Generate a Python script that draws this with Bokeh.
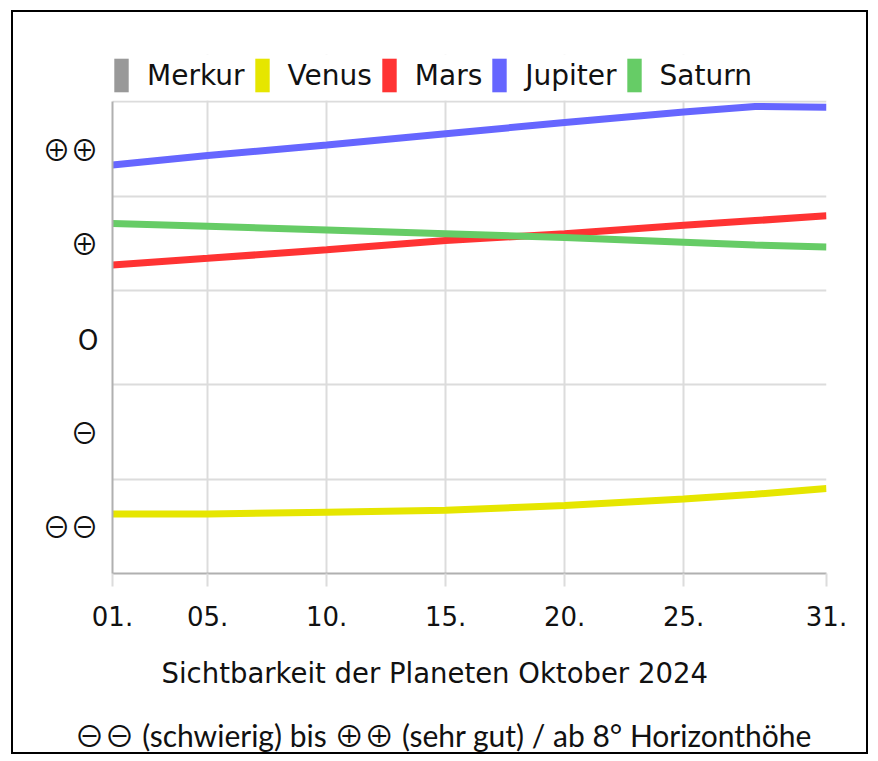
from bokeh.plotting import figure
from bokeh.models import (Range1d, FixedTicker, Legend, LegendItem, Title, BoxAnnotation)
from bokeh.embed import file_html
from bokeh.resources import INLINE

# ---- data ----
days = [1, 5, 10, 15, 20, 25, 28, 31]
planets = ["Merkur", "Venus", "Mars", "Jupiter", "Saturn"]
colors = ["#999999", "#e6e600", "#ff3333", "#6666ff", "#66cc66"]
merkur = [float("nan")] * 8
venus = [-1.87, -1.87, -1.85, -1.83, -1.78, -1.71, -1.66, -1.60]
mars = [0.77, 0.84, 0.93, 1.03, 1.10, 1.19, 1.24, 1.29]
jupiter = [1.83, 1.93, 2.04, 2.16, 2.28, 2.39, 2.45, 2.44]
saturn = [1.21, 1.18, 1.14, 1.10, 1.06, 1.01, 0.98, 0.96]
series = [merkur, venus, mars, jupiter, saturn]

x_ticks = [1, 5, 10, 15, 20, 25, 31]
x_tick_labels = ["01.", "05.", "10.", "15.", "20.", "25.", "31."]
y_ticks = [-2, -1, 0, 1, 2]
y_tick_labels = ["⊖⊖", "⊖", "O", "⊕", "⊕⊕"]
y_grid = [-2.5, -1.5, -0.5, 0.5, 1.5, 2.5]
y_min, y_max, y_legend_top = -2.5, 2.5, 3.0
title1 = "Sichtbarkeit der Planeten Oktober 2024"
title2 = "⊖⊖ (schwierig) bis ⊕⊕ (sehr gut) / ab 8° Horizonthöhe"

FONT = "DejaVu Sans"
NAN = float("nan")

p = figure(frame_width=714, frame_height=519, output_backend="svg", toolbar_location=None,
           x_range=Range1d(1, 31), y_range=Range1d(y_min, y_legend_top),
           min_border_left=99, min_border_top=42, min_border_right=40,
           min_border_bottom=170)
p.margin = (10, 0, 0, 11)
p.styles = {"border": "2px solid black"}
p.outline_line_color = None
p.background_fill_color = "white"
p.border_fill_color = "white"

grid_col = "#dcdcdc"
axis_col = "#b0b0b0"

p.xaxis.ticker = FixedTicker(ticks=x_ticks)
p.xaxis.major_label_overrides = {t: l for t, l in zip(x_ticks, x_tick_labels)}
p.xaxis.major_label_text_font = FONT
p.xaxis.major_label_text_font_size = "26px"
p.xaxis.major_label_text_color = "#111111"
p.xaxis.major_tick_out = 13
p.xaxis.major_tick_in = 0
p.xaxis.major_tick_line_color = grid_col
p.xaxis.major_tick_line_width = 2
p.xaxis.minor_tick_line_color = None
p.xaxis.axis_line_color = axis_col
p.xaxis.axis_line_width = 2
p.xaxis.major_label_standoff = 19

p.yaxis.ticker = FixedTicker(ticks=y_ticks)
p.yaxis.bounds = (y_min, y_max)
p.yaxis.major_label_overrides = {t: l for t, l in zip(y_ticks, y_tick_labels)}
p.yaxis.major_label_text_font = "Noto Sans CJK JP"
p.yaxis.major_label_text_font_size = "28px"
p.yaxis.major_label_text_color = "#111111"
p.yaxis.major_tick_line_color = None
p.yaxis.minor_tick_line_color = None
p.yaxis.axis_line_color = axis_col
p.yaxis.axis_line_width = 2
p.yaxis.major_label_standoff = 8

p.xgrid.ticker = FixedTicker(ticks=x_ticks)
p.ygrid.ticker = FixedTicker(ticks=y_grid)
p.xgrid.grid_line_color = grid_col
p.ygrid.grid_line_color = grid_col
p.xgrid.grid_line_width = 2
p.ygrid.grid_line_width = 2

# white band above the chart area, reserved for the legend (hides grid lines there)
p.add_layout(BoxAnnotation(bottom=y_max + 0.012, fill_color="white", fill_alpha=1,
                           line_color=None, level="underlay"))

items = []
for name, col, vals in zip(planets, colors, series):
    p.line(days, vals, line_color=col, line_width=7)
    dummy = p.quad(left=[NAN], right=[NAN], top=[NAN], bottom=[NAN],
                   fill_color=col, line_color=None)
    items.append(LegendItem(label=name, renderers=[dummy]))

legend = Legend(items=items, orientation="horizontal", location="top_left",
                glyph_width=18, glyph_height=42, label_standoff=17, spacing=8,
                padding=0, margin=0, border_line_color=None,
                background_fill_alpha=0, label_text_font=FONT,
                label_text_font_size="28px", label_text_color="#111111")
p.add_layout(legend, "center")

t1 = Title(text=title1, align="left", offset=49, text_font=FONT,
           text_font_size="27.5px", text_font_style="normal", text_color="#111111",
           standoff=52, text_line_height=1.0)
t2 = Title(text=title2, align="left", offset=-38, text_font="Lato, 'Noto Sans CJK JP'",
           text_font_size="30px", text_font_style="normal", text_color="#111111",
           standoff=0, text_line_height=0.7)
p.add_layout(t1, "below")
p.add_layout(t2, "below")

open("out.html", "w").write(file_html(p, INLINE))
